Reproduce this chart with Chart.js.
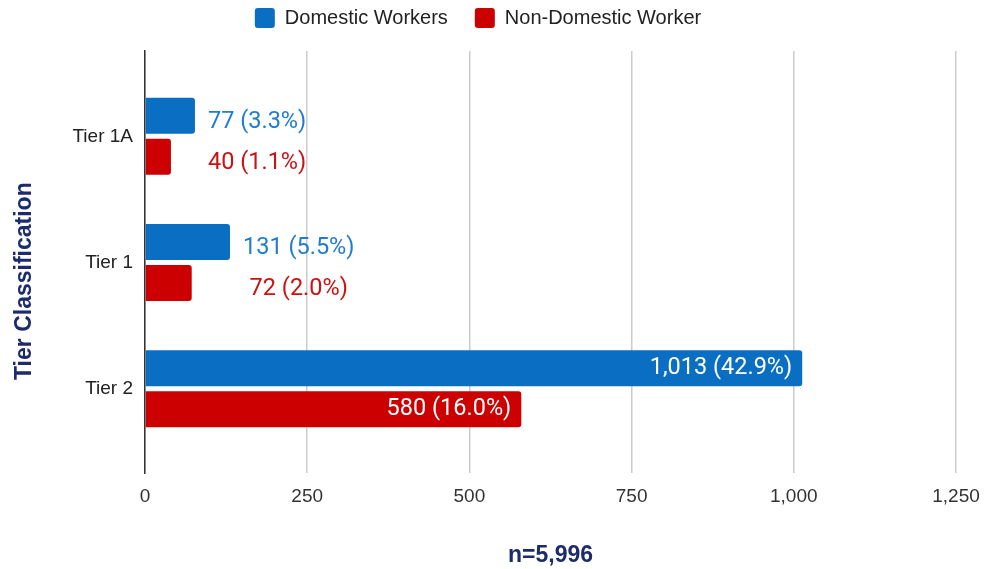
<!DOCTYPE html>
<html>
<head>
<meta charset="utf-8">
<script src="https://cdn.jsdelivr.net/npm/chart.js@4.4.1/dist/chart.umd.min.js"></script>
<style>
  html, body { margin: 0; padding: 0; background: #fff; }
  #wrap { width: 984px; height: 569px; }
</style>
</head>
<body>
<div id="wrap"><canvas id="chart" width="984" height="569"></canvas></div>
<script>
// ---------- data ----------
const CATEGORIES = ['Tier 1A', 'Tier 1', 'Tier 2'];
const DOMESTIC = [77, 131, 1013];
const DOMESTIC_PCT = [3.3, 5.5, 42.9];
const NON_DOMESTIC = [40, 72, 580];
const NON_DOMESTIC_PCT = [1.1, 2.0, 16.0];
const X_TICKS = [0, 250, 500, 750, 1000, 1250];

const SANS = "'Liberation Sans', Arial, sans-serif";
const NAVY = '#1c2b6b';
const Y_MIN = -0.676, Y_MAX = 2.668;

// ---------- value labels ----------
const fmt = (v, p) => `${v.toLocaleString('en-US')} (${p.toFixed(1)}%)`;
const PCTS = [DOMESTIC_PCT, NON_DOMESTIC_PCT];

const valueLabels = {
    id: 'valueLabels',
    afterDatasetsDraw(chart) {
        const ctx = chart.ctx;
        ctx.save();
        ctx.font = '23.5px Roboto';
        ctx.textBaseline = 'middle';
        CATEGORIES.forEach((_, i) => {
            const items = chart.data.datasets.map((ds, d) => {
                const bar = chart.getDatasetMeta(d).data[i];
                const text = fmt(ds.data[i].x, PCTS[d][i]);
                const w = ctx.measureText(text).width;
                return { bar, text, w, inside: w + 20 < bar.x - bar.base, color: ds.labelColor };
            });
            const outside = items.filter(it => !it.inside);
            const anchor = outside.length ? Math.max(...outside.map(it => it.bar.x)) + 13 : 0;
            const maxW = outside.length ? Math.max(...outside.map(it => it.w)) : 0;
            items.forEach(it => {
                if (it.inside) {
                    ctx.fillStyle = '#ffffff';
                    ctx.textAlign = 'right';
                    ctx.fillText(it.text, it.bar.x - 10, it.bar.y);
                } else {
                    ctx.fillStyle = it.color;
                    ctx.textAlign = 'center';
                    ctx.fillText(it.text, anchor + maxW / 2, it.bar.y + 6);
                }
            });
        });
        ctx.restore();
    }
};

// a bit more room under the legend row
const legendGap = {
    id: 'legendGap',
    afterInit(chart) {
        const fit = chart.legend.fit;
        chart.legend.fit = function () { fit.call(this); this.height += 13; };
    }
};

new Chart(document.getElementById('chart'), {
    type: 'bar',
    data: {
        datasets: [
            {
                label: 'Domestic Workers',
                data: DOMESTIC.map((v, i) => ({ x: v, y: i })),
                backgroundColor: '#0a6fc2',
                labelColor: '#1f7ccf',
            },
            {
                label: 'Non-Domestic Worker',
                data: NON_DOMESTIC.map((v, i) => ({ x: v, y: i })),
                backgroundColor: '#cc0000',
                labelColor: '#cc1111',
            },
        ],
    },
    options: {
        indexAxis: 'y',
        responsive: false,
        animation: false,
        categoryPercentage: 0.648,
        barPercentage: 0.88,
        borderRadius: 3,
        layout: { padding: { top: -19, right: 28, bottom: 0, left: 0 } },
        plugins: {
            legend: {
                position: 'top',
                labels: {
                    font: { family: SANS, size: 20 },
                    color: '#222',
                    boxWidth: 20,
                    boxHeight: 20,
                    useBorderRadius: true,
                    borderRadius: 3,
                    padding: 27,
                },
            },
            tooltip: { enabled: false },
        },
        scales: {
            x: {
                type: 'linear',
                min: 0,
                max: 1250,
                afterBuildTicks: s => { s.ticks = X_TICKS.map(v => ({ value: v })); },
                ticks: {
                    font: { family: SANS, size: 19 },
                    color: '#333',
                    padding: 12,
                    callback: v => v.toLocaleString('en-US'),
                },
                grid: { color: '#cccccc', lineWidth: 1.5, drawTicks: false },
                border: { display: false },
                title: {
                    display: true,
                    text: 'n=5,996',
                    color: NAVY,
                    font: { family: SANS, size: 23, weight: 'bold' },
                    padding: { top: 4, bottom: 0 },
                },
                afterFit: s => { s.height = 96; s.paddingLeft = 0; s.paddingRight = 0; },
            },
            y: {
                type: 'linear',
                reverse: true,
                offset: false,
                min: Y_MIN,
                max: Y_MAX,
                afterBuildTicks: s => { s.ticks = CATEGORIES.map((_, i) => ({ value: i })); },
                ticks: {
                    font: { family: SANS, size: 19 },
                    color: '#222',
                    padding: 4,
                    callback: v => CATEGORIES[v],
                },
                grid: { display: false },
                border: { display: true, color: '#333', width: 1.5 },
                title: {
                    display: true,
                    text: 'Tier Classification      ',
                    color: NAVY,
                    font: { family: SANS, size: 23, weight: 'bold' },
                    padding: { top: 11, bottom: 8 },
                },
                afterFit: s => { s.width = 145; },
            },
        },
    },
    plugins: [valueLabels, legendGap],
});
</script>
</body>
</html>
